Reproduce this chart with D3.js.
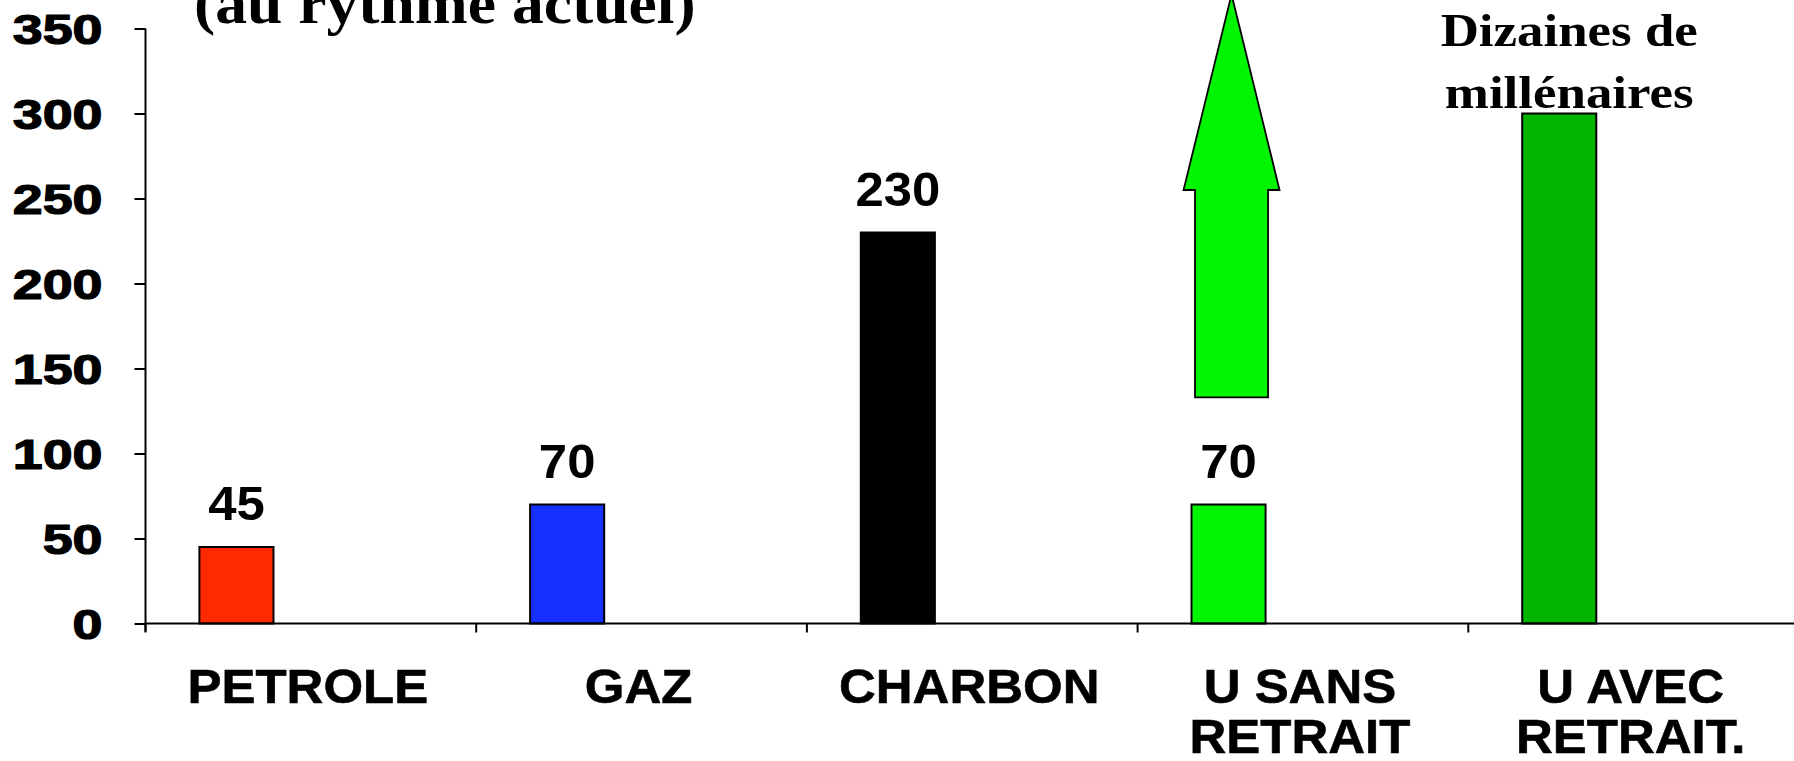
<!DOCTYPE html>
<html>
<head>
<meta charset="utf-8">
<script src="https://cdn.jsdelivr.net/npm/d3@7"></script>
<style>
  html, body { margin: 0; padding: 0; background: #fff; }
  svg { display: block; }
</style>
</head>
<body>
<svg id="chart" width="1794" height="761"></svg>
<script>
// Energy reserves, in years at the current rate of consumption
const categories = ["PETROLE", "GAZ", "CHARBON", "U SANS RETRAIT", "U AVEC RETRAIT."];
const categoryLines = [["PETROLE"], ["GAZ"], ["CHARBON"], ["U SANS", "RETRAIT"], ["U AVEC", "RETRAIT."]];
const values = [45, 70, 230, 70, 300];
const valueLabels = ["45", "70", "230", "70", ""];
const barColors = ["#ff2a00", "#1530ff", "#000000", "#00f500", "#00b400"];
const yTicks = [0, 50, 100, 150, 200, 250, 300, 350];
// upward arrow over the uranium bar: shaft bottom, head base, tip
const arrowLevels = [133, 255, 370];
const titleText = "(au rythme actuel)";
const annotationLines = ["Dizaines de", "millénaires"];

(function draw() {
  const svg = d3.select("#chart");
  const W = 1794;
  const plotLeft = 145.5, plotBottom = 623.5, plotTop = 28.5;

  const x = d3.scaleBand().domain(categories).range([plotLeft, plotLeft + 5 * 330.7]).padding(0);
  const y = d3.scaleLinear().domain([0, 350]).range([plotBottom, plotTop]);
  const bw = x.bandwidth();
  const barOffset = 0.163 * bw, barWidth = 0.224 * bw;

  const sans = "'Liberation Sans', Arial, sans-serif";
  const serif = "'Liberation Serif', 'Times New Roman', serif";

  // stretch text horizontally to a given factor of its natural width
  function stretch(sel, factor) {
    sel.each(function () {
      const len = this.getComputedTextLength();
      d3.select(this).attr("textLength", len * factor).attr("lengthAdjust", "spacingAndGlyphs");
    });
  }

  // bars
  svg.append("g").selectAll("rect").data(values).join("rect")
    .attr("x", (d, i) => x(categories[i]) + barOffset)
    .attr("y", d => y(d))
    .attr("width", barWidth)
    .attr("height", d => y(0) - y(d))
    .attr("fill", (d, i) => barColors[i])
    .attr("stroke", "#000")
    .attr("stroke-width", 2);

  // value labels above the bars
  const vl = svg.append("g").selectAll("text").data(values).join("text")
    .filter((d, i) => valueLabels[i] !== "")
    .attr("x", (d, i) => x(categories[i]) + barOffset + barWidth / 2)
    .attr("y", d => y(d) - 27)
    .attr("text-anchor", "middle")
    .attr("font-family", sans).attr("font-weight", "bold").attr("font-size", 48)
    .attr("fill", "#000")
    .text((d, i) => valueLabels[i]);
  stretch(vl, 1.06);

  // arrow for "U SANS RETRAIT"
  const ai = 3;
  const ax = x(categories[ai]) + barOffset + barWidth / 2 + 3;
  const shaftHalf = barWidth / 2 - 0.5, headHalf = 48;
  const arrowPts = [
    [ax - shaftHalf, y(arrowLevels[0])],
    [ax - shaftHalf, y(arrowLevels[1])],
    [ax - headHalf, y(arrowLevels[1])],
    [ax, y(arrowLevels[2])],
    [ax + headHalf, y(arrowLevels[1])],
    [ax + shaftHalf, y(arrowLevels[1])],
    [ax + shaftHalf, y(arrowLevels[0])]
  ];
  svg.append("path")
    .attr("d", d3.line()(arrowPts) + "Z")
    .attr("fill", barColors[ai])
    .attr("stroke", "#000")
    .attr("stroke-width", 1.8)
    .attr("stroke-linejoin", "miter");

  // y axis
  const yAxis = svg.append("g").attr("transform", `translate(${plotLeft},0)`)
    .call(d3.axisLeft(y).tickValues(yTicks).tickSize(11).tickPadding(32).tickSizeOuter(0));
  yAxis.select(".domain").attr("stroke", "#000").attr("stroke-width", 2)
    .attr("d", `M0,${plotTop}V${plotBottom + 8}`);
  yAxis.selectAll(".tick line").attr("stroke", "#000").attr("stroke-width", 2);
  const yl = yAxis.selectAll(".tick text")
    .attr("font-family", sans).attr("font-weight", "bold").attr("font-size", 42)
    .attr("fill", "#000").attr("stroke", "#000").attr("stroke-width", 1.2)
    .attr("dy", "0.36em");
  stretch(yl, 1.28);

  // x axis with ticks at category boundaries
  svg.append("line")
    .attr("x1", plotLeft).attr("x2", W).attr("y1", plotBottom).attr("y2", plotBottom)
    .attr("stroke", "#000").attr("stroke-width", 2);
  svg.append("g").selectAll("line").data(categories).join("line")
    .attr("x1", d => x(d)).attr("x2", d => x(d))
    .attr("y1", plotBottom).attr("y2", plotBottom + 9)
    .attr("stroke", "#000").attr("stroke-width", 2);

  // category labels
  const cg = svg.append("g");
  categoryLines.forEach((lines, i) => {
    const cx = x(categories[i]) + bw / 2 - 3;
    lines.forEach((line, j) => {
      const t = cg.append("text")
        .attr("x", cx).attr("y", 703 + j * 50)
        .attr("text-anchor", "middle")
        .attr("font-family", sans).attr("font-weight", "bold").attr("font-size", 49)
        .attr("fill", "#000").attr("stroke", "#000").attr("stroke-width", 0.6)
        .text(line);
      stretch(t, 1.04);
    });
  });

  // title (second line, top of the frame)
  const tt = svg.append("text")
    .attr("x", 194).attr("y", 23)
    .attr("font-family", serif).attr("font-weight", "bold").attr("font-size", 60)
    .attr("fill", "#000")
    .text(titleText);
  stretch(tt, 1.06);

  // annotation above the last bar
  const last = categories.length - 1;
  const annX = x(categories[last]) + barOffset + barWidth / 2 + 10;
  annotationLines.forEach((line, j) => {
    const t = svg.append("text")
      .attr("x", annX).attr("y", y(values[last]) - 6 - (annotationLines.length - 1 - j) * 62)
      .attr("text-anchor", "middle")
      .attr("font-family", serif).attr("font-weight", "bold").attr("font-size", 46)
      .attr("fill", "#000")
      .text(line);
    stretch(t, 1.15);
  });
})();
</script>
</body>
</html>
